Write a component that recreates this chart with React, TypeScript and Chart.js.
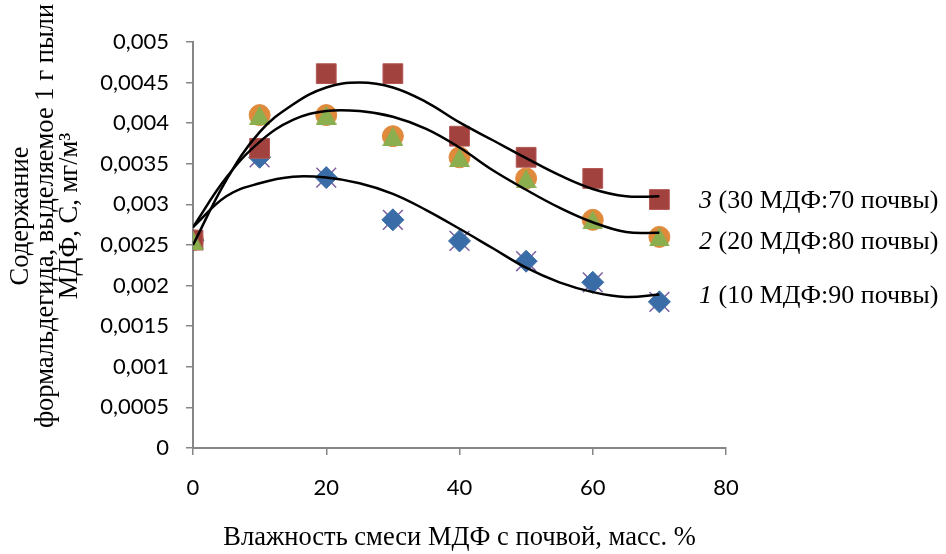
import React, { useEffect, useRef } from 'react';
import { Chart, registerables } from 'chart.js';

Chart.register(...registerables);

// Measured points (x = moisture, mass %)
const xValues = [0, 10, 20, 30, 40, 50, 60, 70];
const series3Values = [0.00256, 0.00369, 0.00461, 0.00461, 0.00384, 0.00358, 0.00332, 0.00306];
const series2Values = [0.00256, 0.0041, 0.0041, 0.00384, 0.00358, 0.00332, 0.00281, 0.0026];
const series2bValues = [0.00256, 0.0041, 0.0041, 0.00384, 0.00358, 0.00332, 0.00281, 0.0026];
const series1Values = [0.00256, 0.00358, 0.00333, 0.00281, 0.00255, 0.0023, 0.00204, 0.0018];
const series1bValues = [0.00256, 0.00358, 0.00333, 0.00281, 0.00255, 0.0023, 0.00204, 0.0018];

// Trend curves
const trendX = [0, 5, 10, 15, 20, 25, 30, 35, 40, 45, 50, 55, 60, 65, 70];
const trend3 = [0.0025, 0.0033, 0.00389, 0.00423, 0.00444, 0.0045, 0.00444, 0.00426, 0.00401, 0.00379, 0.00357, 0.00336, 0.00319, 0.0031, 0.0031];
const trend2 = [0.00272, 0.00333, 0.00377, 0.00404, 0.00415, 0.00415, 0.00408, 0.00393, 0.0037, 0.00342, 0.00318, 0.00296, 0.00278, 0.00266, 0.00265];
const trend1 = [0.00272, 0.0031, 0.00326, 0.00334, 0.00333, 0.00326, 0.00313, 0.00293, 0.0027, 0.00246, 0.00222, 0.00204, 0.00192, 0.00186, 0.00189];

const xTicks = [0, 20, 40, 60, 80];
const yMax = 0.005;
const yStep = 0.0005;

const xTitle = 'Влажность смеси МДФ с почвой, масс. %';
const yTitleLines = ['Содержание', 'формальдегида, выделяемое 1 г пыли', 'МДФ, С, мг/м³'];
const curveNumbers = ['3', '2', '1'];
const curveTexts = [' (30 МДФ:70 почвы)', ' (20 МДФ:80 почвы)', ' (10 МДФ:90 почвы)'];

const toPoints = (xs: number[], ys: number[]) => xs.map((x, i) => ({ x, y: ys[i] }));

function makeTriangle(w: number, h: number, color: string): HTMLCanvasElement {
  const c = document.createElement('canvas');
  c.width = w;
  c.height = h;
  const ctx = c.getContext('2d')!;
  ctx.fillStyle = color;
  ctx.beginPath();
  ctx.moveTo(w / 2, 0);
  ctx.lineTo(w, h);
  ctx.lineTo(0, h);
  ctx.closePath();
  ctx.fill();
  return c;
}

const SERIF = '"Liberation Serif", "Times New Roman", serif';
const SANS = 'Lato, "Open Sans", sans-serif';

export default function App() {
  const canvasRef = useRef<HTMLCanvasElement | null>(null);

  useEffect(() => {
    const canvas = canvasRef.current;
    if (!canvas) return;

    const tri = makeTriangle(21, 19, '#8BAE4F');

    const textPlugin = {
      id: 'textPlugin',
      afterDraw(chart: any) {
        const ctx = chart.ctx as CanvasRenderingContext2D;
        ctx.save();
        ctx.fillStyle = '#000';
        // Y axis title (three rotated lines)
        ctx.font = `26.5px ${SERIF}`;
        ctx.textAlign = 'center';
        ctx.textBaseline = 'middle';
        const lineXs = [21, 46, 70];
        yTitleLines.forEach((line, i) => {
          ctx.save();
          ctx.translate(lineXs[i], 216);
          ctx.rotate(-Math.PI / 2);
          ctx.fillText(line, 0, 0);
          ctx.restore();
        });
        // Curve labels
        const labelYs = [201, 242, 296];
        ctx.textAlign = 'left';
        curveNumbers.forEach((n, i) => {
          const x0 = 699;
          ctx.font = `italic 26px ${SERIF}`;
          ctx.fillText(n, x0, labelYs[i]);
          const w = ctx.measureText(n).width;
          ctx.font = `26px ${SERIF}`;
          ctx.fillText(curveTexts[i], x0 + w, labelYs[i]);
        });
        ctx.restore();
      },
    };

    const trendStyle = {
      showLine: true,
      borderColor: '#000',
      borderWidth: 2.5,
      pointRadius: 0,
      tension: 0.4,
      fill: false,
      order: 0,
    };

    const chart = new Chart(canvas, {
      type: 'scatter',
      data: {
        datasets: [
          { label: 't3', data: toPoints(trendX, trend3), ...trendStyle },
          { label: 't2', data: toPoints(trendX, trend2), ...trendStyle },
          { label: 't1', data: toPoints(trendX, trend1), ...trendStyle },
          {
            label: '2b',
            data: toPoints(xValues, series2bValues),
            pointStyle: tri as any,
            pointRadius: 10,
            order: 1,
          },
          {
            label: '3',
            data: toPoints(xValues, series3Values),
            pointStyle: 'rect',
            pointRadius: 14,
            backgroundColor: '#A2423F',
            borderColor: '#B35855',
            borderWidth: 1,
            order: 2,
          },
          {
            label: '1',
            data: toPoints(xValues, series1Values),
            pointStyle: 'rectRot',
            pointRadius: 11,
            backgroundColor: '#3A6DA7',
            borderColor: '#3A6DA7',
            borderWidth: 1,
            order: 3,
          },
          {
            label: '1b',
            data: toPoints(xValues, series1bValues),
            pointStyle: 'crossRot',
            pointRadius: 14,
            backgroundColor: '#7D5FA0',
            borderColor: '#7D5FA0',
            borderWidth: 1.5,
            order: 4,
          },
          {
            label: '2',
            data: toPoints(xValues, series2Values),
            pointStyle: 'circle',
            pointRadius: 10.5,
            backgroundColor: '#E08A3C',
            borderColor: '#E08A3C',
            borderWidth: 1,
            order: 5,
          },
        ],
      },
      options: {
        animation: false,
        responsive: true,
        maintainAspectRatio: false,
        layout: { padding: { top: 42, right: 220, bottom: 0, left: 0 } },
        plugins: {
          legend: { display: false },
          tooltip: { enabled: false },
        },
        scales: {
          x: {
            type: 'linear',
            min: 0,
            max: 80,
            afterBuildTicks: (s: any) => {
              s.ticks = xTicks.map((v) => ({ value: v }));
            },
            afterFit: (s: any) => {
              s.height = 106;
            },
            grid: { display: true, drawOnChartArea: false, drawTicks: true, tickLength: 7, color: '#868686', lineWidth: 1.5 },
            border: { display: true, color: '#868686', width: 2 },
            ticks: { color: '#000', font: { family: SANS, size: 22 }, padding: 20, maxRotation: 0 },
            title: {
              display: true,
              text: xTitle,
              color: '#000',
              font: { family: SERIF, size: 26.5 },
              padding: { top: 0, bottom: 0 },
            },
          },
          y: {
            type: 'linear',
            min: 0,
            max: yMax,
            ticks: {
              stepSize: yStep,
              color: '#000',
              font: { family: SANS, size: 22 },
              padding: 17,
              callback: (v: any) => {
                const n = Number(v);
                if (Math.abs(n) < 1e-12) return '0';
                return parseFloat(n.toFixed(4)).toString().replace('.', ',');
              },
            },
            afterFit: (s: any) => {
              s.width = 193;
            },
            grid: { display: true, drawOnChartArea: false, drawTicks: true, tickLength: 7, color: '#868686', lineWidth: 1.5 },
            border: { display: true, color: '#868686', width: 2 },
          },
        },
      },
      plugins: [textPlugin],
    } as any);

    return () => chart.destroy();
  }, []);

  return (
    <div style={{ position: 'absolute', left: 0, top: 0, width: 946, height: 554 }}>
      <canvas ref={canvasRef} />
    </div>
  );
}
